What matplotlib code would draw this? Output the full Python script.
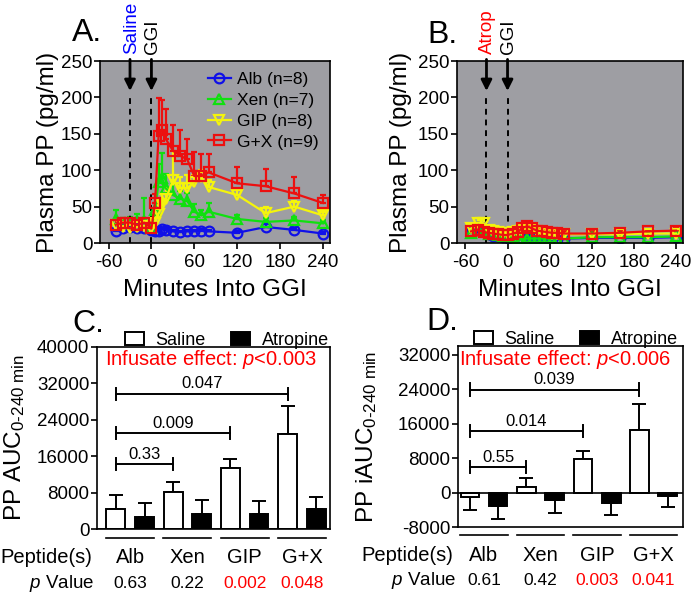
import numpy as np
import matplotlib
matplotlib.use('Agg')
import matplotlib.pyplot as plt
from matplotlib.lines import Line2D
from matplotlib.transforms import blended_transform_factory

plt.rcParams['font.family'] = ['Liberation Sans', 'DejaVu Sans']
plt.rcParams['mathtext.fontset'] = 'custom'
plt.rcParams['mathtext.rm'] = 'Liberation Sans'
plt.rcParams['mathtext.it'] = 'Liberation Sans:italic'
plt.rcParams['axes.unicode_minus'] = False

# ---- panel A: saline pretreatment, time course ----
tA = [-50, -40, -30, -20, -10, 0, 5, 10, 15, 20, 30, 40, 50, 60, 70, 80, 120, 160, 200, 240]
alb_A = [17, 20, 22, 21, 20, 18, 16, 17, 19, 18, 16, 15, 16, 16, 17, 16, 14, 22, 18, 13]
alb_A_err = [3, 3, 4, 3, 3, 2, 2, 2, 2, 2, 2, 2, 2, 2, 2, 2, 2, 4, 3, 2]
xen_A = [33, 27, 28, 30, 30, 22, 45, 84, 89, 75, 66, 61, 58, 43, 38, 43, 33, 29, 31, 27]
xen_A_err = [12, 8, 8, 10, 32, 6, 10, 25, 35, 20, 15, 10, 10, 10, 8, 12, 6, 5, 5, 4]
gip_A = [25, 22, 20, 22, 24, 20, 28, 40, 52, 60, 86, 76, 75, 84, 90, 77, 66, 41, 50, 38]
gip_A_err = [6, 6, 6, 6, 6, 5, 8, 12, 15, 15, 40, 15, 18, 10, 10, 10, 8, 8, 8, 5]
gx_A = [25, 28, 28, 25, 28, 20, 55, 147, 155, 143, 127, 120, 115, 92, 92, 97, 82, 78, 68, 55]
gx_A_err = [6, 6, 6, 6, 6, 5, 12, 52, 42, 41, 35, 35, 28, 33, 30, 25, 22, 23, 23, 11]

# ---- panel B: atropine pretreatment, time course ----
tB = [-52, -42, -34, -27, -20, -13, -6, 0, 8, 15, 21, 28, 35, 42, 49, 56, 63, 70, 80, 120, 160, 200, 240]
alb_B = [15, 22, 20, 12, 10, 9, 8, 7, 6, 6, 5, 5, 5, 6, 6, 6, 6, 6, 6, 7, 7, 7, 8]
alb_B_err = [3, 5, 5, 3, 2, 2, 2, 2, 2, 2, 2, 2, 2, 2, 2, 2, 2, 2, 2, 2, 2, 2, 2]
xen_B = [14, 18, 16, 13, 12, 11, 10, 9, 8, 7, 6, 6, 6, 6, 6, 6, 6, 6, 6, 8, 8, 8, 9]
xen_B_err = [4, 4, 4, 3, 3, 3, 3, 2, 2, 2, 2, 2, 2, 2, 2, 2, 2, 2, 2, 2, 2, 2, 2]
gip_B = [20, 28, 27, 18, 16, 15, 14, 13, 15, 17, 18, 20, 19, 17, 15, 14, 13, 13, 12, 12, 12, 13, 13]
gip_B_err = [6, 6, 6, 4, 4, 4, 3, 3, 3, 3, 3, 4, 4, 3, 3, 3, 3, 3, 3, 3, 3, 3, 3]
gx_B = [16, 18, 15, 14, 13, 12, 11, 11, 13, 15, 21, 23, 20, 17, 16, 15, 14, 14, 13, 13, 14, 16, 17]
gx_B_err = [4, 4, 4, 3, 3, 3, 3, 3, 3, 3, 4, 4, 4, 3, 3, 3, 3, 3, 3, 3, 3, 3, 3]

series_names = ['Alb (n=8)', 'Xen (n=7)', 'GIP (n=8)', 'G+X (n=9)']
series_colors = ['#1010e8', '#10e010', '#f4f40c', '#ec1010']
series_markers = ['o', '^', 'v', 's']

# ---- panels C and D: AUC bars ----
groups = ['Alb', 'Xen', 'GIP', 'G+X']
auc_saline = [4500, 8200, 13500, 20800]
auc_saline_err = [3000, 2200, 1900, 6200]
auc_atropine = [2600, 3300, 3400, 4400]
auc_atropine_err = [3100, 3100, 2800, 2700]
auc_pvals = ['0.63', '0.22', '0.002', '0.048']
auc_brackets = [(1, 14300, '0.33'), (2, 21100, '0.009'), (3, 29700, '0.047')]

iauc_saline = [-1000, 1300, 7800, 14600]
iauc_saline_err = [3000, 2000, 1900, 6000]
iauc_atropine = [-3100, -1800, -2400, -700]
iauc_atropine_err = [3000, 2900, 2800, 2700]
iauc_pvals = ['0.61', '0.42', '0.003', '0.041']
iauc_brackets = [(1, 5900, '0.55'), (2, 14200, '0.014'), (3, 23900, '0.039')]
pval_colors = ['black', 'black', 'red', 'red']

W, H = 693, 595
fig = plt.figure(figsize=(6.93, 5.95), dpi=100)


def px_axes(left, top, right, bottom):
    return fig.add_axes([left / W, 1 - bottom / H, (right - left) / W, (bottom - top) / H])


def style_axes(ax):
    for s in ax.spines.values():
        s.set_linewidth(1.2)
    ax.tick_params(direction='out', length=4, width=1.2, labelsize=13.5, pad=1.5)


def time_panel(ax, t, data, errs, label_txt, label_col):
    ax.set_facecolor('#9e9ea3')
    for y, e, c, m in zip(data, errs, series_colors, series_markers):
        ax.errorbar(t, y, yerr=[np.zeros(len(e)), e], color=c, marker=m, mfc='none',
                    ms=7, mew=1.6, lw=1.6, elinewidth=1.6, capsize=2.5, capthick=1.6)
    ax.set_xlim(-72, 250)
    ax.set_ylim(0, 250)
    ax.set_xticks([-60, 0, 60, 120, 180, 240])
    ax.set_yticks([0, 50, 100, 150, 200, 250])
    style_axes(ax)
    ax.tick_params(axis='x', pad=4)
    ax.set_xlabel('Minutes Into GGI', fontsize=17.5)
    ax.set_ylabel('Plasma PP (pg/ml)', fontsize=17.5)
    ax.xaxis.set_label_coords(0.5, -0.2)
    # infusion arrows
    for x, txt, col in [(-30, label_txt, label_col), (0, 'GGI', 'black')]:
        ax.annotate('', xy=(x, 205), xytext=(x, 256), annotation_clip=False,
                    arrowprops=dict(arrowstyle='-|>', color='k', lw=2, mutation_scale=16))
        ax.plot([x, x], [0, 205], color='k', lw=1.4, dashes=(3, 2.5))
        ax.text(x + 2, 259, txt, rotation=90, ha='center', va='bottom', color=col,
                fontsize=13.5, clip_on=False)


def bar_panel(ax, sal, sal_err, atr, atr_err, brackets, pvals, text_y, text_x, ylims,
              yticks, br_cap, lab_y, legend_x):
    x = np.arange(len(groups))
    wd = 0.33
    b1 = ax.bar(x - 0.25, sal, wd, color='white', edgecolor='black', lw=1.4, label='Saline', zorder=2)
    b2 = ax.bar(x + 0.25, atr, wd, color='black', edgecolor='black', lw=1.4, label='Atropine', zorder=2)
    for xs, v, e in zip(x - 0.25, sal, sal_err):
        ax.errorbar(xs, v, yerr=[[0], [e]] if v >= 0 else [[e], [0]], color='k',
                    lw=1.4, capsize=5, capthick=1.4, zorder=1)
    for xs, v, e in zip(x + 0.25, atr, atr_err):
        ax.errorbar(xs, v, yerr=[[0], [e]] if v >= 0 else [[e], [0]], color='k',
                    lw=1.4, capsize=5, capthick=1.4, zorder=1)
    ax.axhline(0, color='k', lw=1.2, zorder=3)
    ax.set_ylim(*ylims)
    ax.set_yticks(yticks)
    ax.set_xticks([])
    style_axes(ax)
    # comparison brackets
    for g, yb, txt in brackets:
        ax.plot([-0.25, g - 0.25], [yb, yb], color='k', lw=1.4)
        for xe in (-0.25, g - 0.25):
            ax.plot([xe, xe], [yb - br_cap, yb + br_cap], color='k', lw=1.4)
        ax.text((g - 0.5) / 2, yb + br_cap * 0.4, txt, ha='center', va='bottom', fontsize=12)
    ax.text(text_x, text_y, r'Infusate effect: $p$<' + ('0.003' if ylims[0] == 0 else '0.006'),
            transform=blended_transform_factory(ax.transAxes, ax.transData),
            ha='center', va='center', color='red', fontsize=14.5)
    # labels under the axes
    tr = blended_transform_factory(ax.transData, ax.transAxes)
    for i, g in enumerate(groups):
        ax.plot([i - 0.42, i + 0.42], [lab_y[0], lab_y[0]], color='k', lw=1.2,
                transform=tr, clip_on=False)
        ax.text(i, lab_y[1], g, ha='center', va='center', fontsize=14.5, transform=tr)
        ax.text(i, lab_y[2], pvals[i], ha='center', va='center', fontsize=12.5,
                color=pval_colors[i], transform=tr)
    ax.text(-0.02, lab_y[1], 'Peptide(s)', ha='right', va='center', fontsize=14.5,
            transform=ax.transAxes)
    ax.text(-0.01, lab_y[2], r'$p$ Value', ha='right', va='center', fontsize=13.5,
            transform=ax.transAxes)
    ax.legend(handles=[b1, b2], ncol=2, loc='lower left', bbox_to_anchor=(legend_x, 0.99),
              frameon=False, fontsize=13, handlelength=1.05, handleheight=0.72,
              handletextpad=0.65, columnspacing=1.4, borderaxespad=0, borderpad=0)


axA = px_axes(100, 61, 330, 243)
time_panel(axA, tA, [alb_A, xen_A, gip_A, gx_A], [alb_A_err, xen_A_err, gip_A_err, gx_A_err],
           'Saline', 'blue')
axA.yaxis.set_label_coords(-0.18, 0.5)
handles = [Line2D([], [], color=c, marker=m, mfc='none', ms=7, mew=1.6, lw=1.6)
           for c, m in zip(series_colors, series_markers)]
axA.legend(handles, series_names, loc='upper right', bbox_to_anchor=(1.0, 1.0), frameon=False,
           fontsize=12.5, handlelength=1.35, handletextpad=0.35, labelspacing=0.32,
           borderaxespad=0.25)

axB = px_axes(457, 61, 683, 243)
time_panel(axB, tB, [alb_B, xen_B, gip_B, gx_B], [alb_B_err, xen_B_err, gip_B_err, gx_B_err],
           'Atrop', 'red')
axB.yaxis.set_label_coords(-0.2, 0.5)

axC = px_axes(97, 347, 330, 529)
bar_panel(axC, auc_saline, auc_saline_err, auc_atropine, auc_atropine_err, auc_brackets,
          auc_pvals, 37150, 0.49, (0, 40000), np.arange(0, 40001, 8000), 1300,
          (-0.05, -0.155, -0.3), 0.12)
axC.set_xlim(-0.58, 3.49)
axC.set_ylabel(r'PP AUC$_{\text{0-240 min}}$', fontsize=17.5)
axC.yaxis.set_label_coords(-0.3, 0.5)

axD = px_axes(458, 346, 683, 527)
bar_panel(axD, iauc_saline, iauc_saline_err, iauc_atropine, iauc_atropine_err, iauc_brackets,
          iauc_pvals, 30800, 0.476, (-8000, 34000), np.arange(-8000, 32001, 8000), 1400,
          (-0.045, -0.155, -0.295), 0.07)
axD.set_xlim(-0.46, 3.52)
axD.set_ylabel(r'PP iAUC$_{\text{0-240 min}}$', fontsize=17.5)
axD.yaxis.set_label_coords(-0.35, 0.5)

for lab, x, y in [('A.', 72, 18), ('B.', 427, 20), ('C.', 72, 309), ('D.', 426, 307)]:
    fig.text(x / W, 1 - y / H, lab, fontsize=23, ha='left', va='top')

fig.savefig('out.png', dpi=100)
